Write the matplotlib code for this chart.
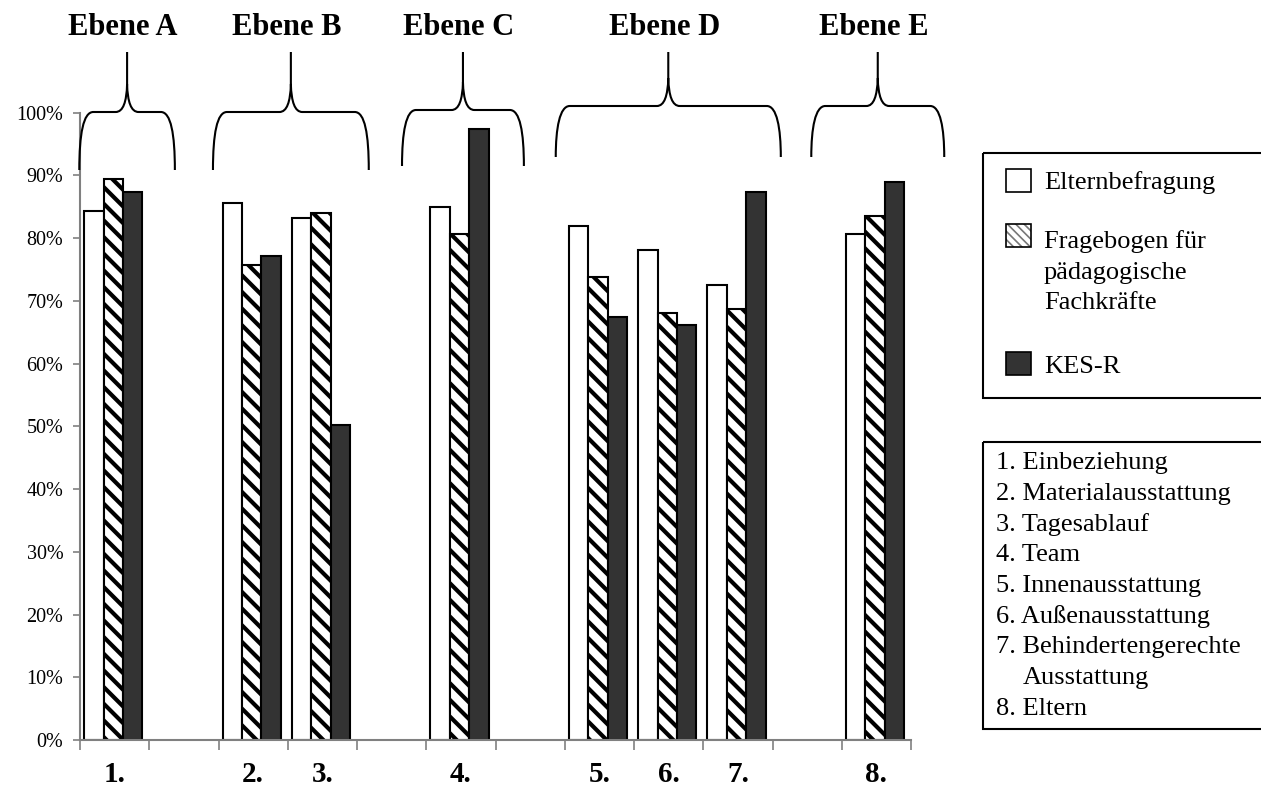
import numpy as np
import matplotlib
matplotlib.use("Agg")
import matplotlib.pyplot as plt
from matplotlib.path import Path
from matplotlib.patches import PathPatch, Rectangle
from matplotlib.ticker import FuncFormatter

plt.rcParams["font.family"] = ["Liberation Serif", "DejaVu Serif"]
plt.rcParams["hatch.linewidth"] = 3.0

# ── data ────────────────────────────────────────────────────────────────
categories = ["1.", "", "2.", "3.", "", "4.", "", "5.", "6.", "7.", "", "8."]
nan = np.nan
eltern   = [84.4, nan, 85.6, 83.2, nan, 85.0, nan, 81.9, 78.1, 72.5, nan, 80.7]
fachkr   = [89.5, nan, 75.7, 84.0, nan, 80.6, nan, 73.8, 68.1, 68.7, nan, 83.6]
kes_r    = [87.3, nan, 77.2, 50.2, nan, 97.4, nan, 67.5, 66.1, 87.3, nan, 88.9]
series_names = ["Elternbefragung", "Fragebogen für\npädagogische\nFachkräfte", "KES-R"]

groups = ["Ebene A", "Ebene B", "Ebene C", "Ebene D", "Ebene E"]
legend_items = [
    "1. Einbeziehung",
    "2. Materialausstattung",
    "3. Tagesablauf",
    "4. Team",
    "5. Innenausstattung",
    "6. Außenausstattung",
    "7. Behindertengerechte",
    "Ausstattung",
    "8. Eltern",
]

# ── layout (pixels, origin top-left) ────────────────────────────────────
W, H = 1261, 789
AX_L, AX_R, AX_B, AX_T = 80, 911, 740, 112.7
# brace spans in slot units: (left, right, y_bottom, y_flat)
brace_spans = [(-0.51, 0.87, 170, 112), (1.42, 3.67, 170, 112),
               (4.15, 5.91, 166, 110), (6.37, 9.62, 157, 106),
               (10.06, 11.98, 157, 106)]
BRACE_TOP = 52

fig = plt.figure(figsize=(W / 100, H / 100), dpi=100)
ax = fig.add_axes([AX_L / W, 1 - AX_B / H, (AX_R - AX_L) / W, (AX_B - AX_T) / H])

x = np.arange(len(categories))
width = 0.28
offsets = [-0.30, -0.02, 0.26]
styles = [dict(color="white", hatch=None),
          dict(color="white", hatch="\\\\"),
          dict(color="#333333", hatch=None)]

for vals, off, st in zip([eltern, fachkr, kes_r], offsets, styles):
    v = np.array(vals, dtype=float) / 100
    m = ~np.isnan(v)
    ax.bar(x[m] + off, v[m], width, color=st["color"], hatch=st["hatch"],
           edgecolor="black", linewidth=1.5, zorder=2)

ax.set_xlim(-0.5, len(categories) - 0.5)
ax.set_ylim(0, 1)
ax.set_yticks(np.arange(0, 1.01, 0.1))
ax.yaxis.set_major_formatter(FuncFormatter(lambda v, p: f"{int(round(v * 100))}%"))
ax.tick_params(axis="y", length=5, width=1.2, color="#808080", pad=7, labelsize=14.5)

ax.set_xticks(x, labels=categories)
ax.set_xticks(np.arange(-0.5, len(categories), 1), minor=True)
ax.tick_params(axis="x", which="major", length=0, pad=15, labelsize=21)
ax.tick_params(axis="x", which="minor", length=7, width=1.2, color="#808080")
for lab in ax.get_xticklabels():
    lab.set_fontweight("bold")

for s in ["top", "right"]:
    ax.spines[s].set_visible(False)
for s in ["left", "bottom"]:
    ax.spines[s].set_color("#808080")
    ax.spines[s].set_linewidth(1.5)

# ── overlay in pixel coordinates ────────────────────────────────────────
ov = fig.add_axes([0, 0, 1, 1])
ov.set_xlim(0, W)
ov.set_ylim(H, 0)
ov.axis("off")
ov.patch.set_alpha(0)

slot_px = (AX_R - AX_L) / len(categories)


def sx(s):
    return AX_L + (s + 0.5) * slot_px


def brace(x0, x1, ybot, yflat, ytop):
    xp = (x0 + x1) / 2
    verts = [
        (x0, ybot), (x0, yflat + 22), (x0 + 4, yflat), (x0 + 14, yflat),
        (xp - 11.5, yflat),
        (xp - 4, yflat), (xp - 0.5, yflat - 10), (xp, yflat - 28),
        (xp, ytop),
        (xp, yflat - 28),
        (xp + 0.5, yflat - 10), (xp + 4, yflat), (xp + 11.5, yflat),
        (x1 - 14, yflat),
        (x1 - 4, yflat), (x1, yflat + 22), (x1, ybot),
    ]
    codes = [Path.MOVETO, Path.CURVE4, Path.CURVE4, Path.CURVE4,
             Path.LINETO,
             Path.CURVE4, Path.CURVE4, Path.CURVE4,
             Path.LINETO,
             Path.MOVETO,
             Path.CURVE4, Path.CURVE4, Path.CURVE4,
             Path.LINETO,
             Path.CURVE4, Path.CURVE4, Path.CURVE4]
    ov.add_patch(PathPatch(Path(verts, codes), fill=False, lw=1.5, ec="black"))
    return xp


for name, (s0, s1, yb, yf) in zip(groups, brace_spans):
    xp = brace(sx(s0), sx(s1), yb, yf, BRACE_TOP)
    ov.text(xp - 4, 27, name, ha="center", va="center", fontsize=22,
            fontweight="bold")

# legend 1: series
ov.add_patch(Rectangle((982.7, 153), 300, 244.7, fill=False, lw=1.5, ec="black"))
sq_y = [169, 224, 351.7]
sq_styles = [dict(fc="white", hatch=None, hc="black"),
             dict(fc="white", hatch="\\\\\\\\", hc="#777777"),
             dict(fc="#333333", hatch=None, hc="black")]
base_y = [189.3, 248, 373]
for name, y0, st, by in zip(series_names, sq_y, sq_styles, base_y):
    with plt.rc_context({"hatch.linewidth": 1.2}):
        sq = Rectangle((1005.7, y0), 25, 23, fc=st["fc"], hatch=st["hatch"],
                       ec=st["hc"], lw=0)
        if hasattr(sq, "set_hatch_linewidth"):
            sq.set_hatch_linewidth(1.2)
        ov.add_patch(sq)
    ov.add_patch(Rectangle((1005.7, y0), 25, 23, fill=False, ec="black", lw=1.2))
    for j, line in enumerate(name.split("\n")):
        ov.text(1044, by + j * 30.5, line, va="baseline", ha="left", fontsize=19)

# legend 2: item list
ov.add_patch(Rectangle((982.7, 441.7), 300, 287.6, fill=False, lw=1.5, ec="black"))
for i, item in enumerate(legend_items):
    xt = 1022.7 if not item[0].isdigit() else 996
    ov.text(xt, 469 + i * 30.75, item, va="baseline", ha="left", fontsize=19)

fig.savefig("out.png", dpi=100)
